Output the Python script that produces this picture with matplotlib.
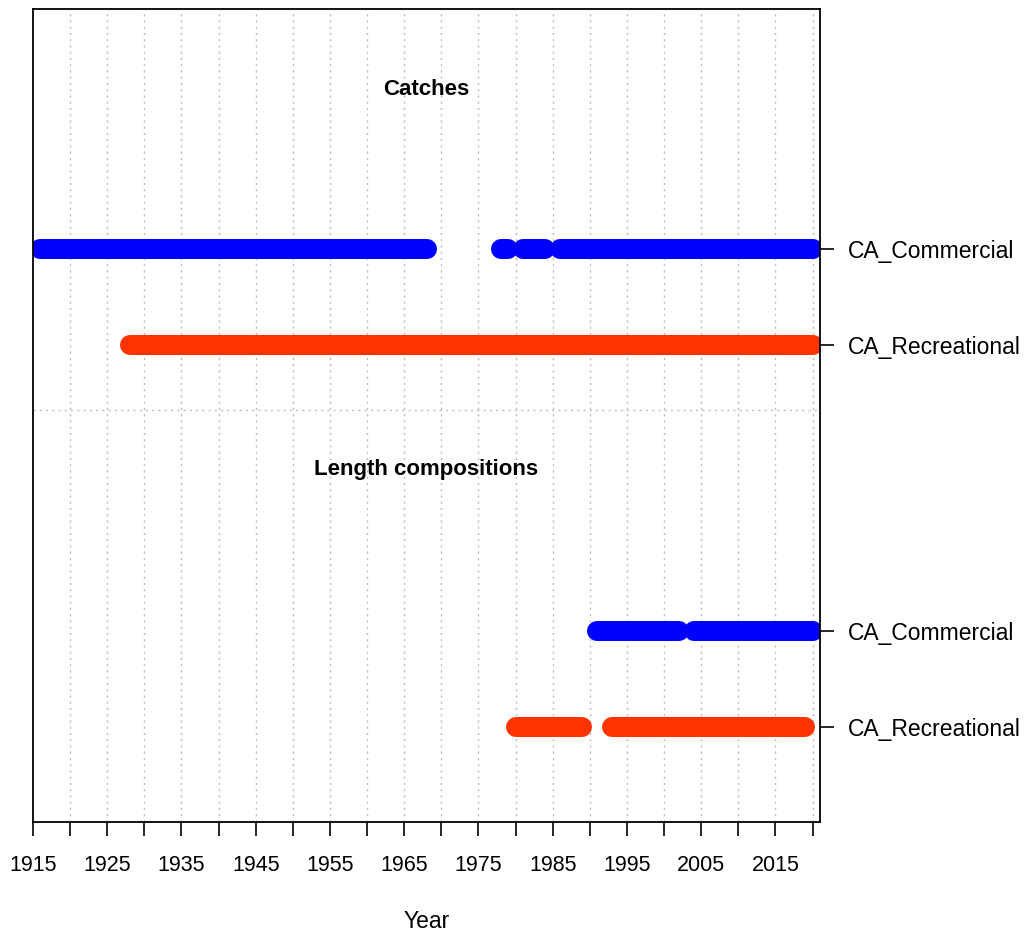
import matplotlib
matplotlib.use("Agg")
import matplotlib.pyplot as plt

plt.rcParams['font.family'] = ['Liberation Sans', 'DejaVu Sans']

# ---- data: runs of consecutive years with data (start, end) ----
catch_comm_runs = [(1916, 1968), (1978, 1979), (1981, 1984), (1986, 2020)]
catch_rec_runs = [(1928, 2020)]
len_comm_runs = [(1991, 2002), (2004, 2020)]
len_rec_runs = [(1980, 1989), (1993, 2019)]

fleet_labels = ["CA_Commercial", "CA_Recreational", "CA_Commercial", "CA_Recreational"]
type_titles = ["Catches", "Length compositions"]
fleet_colors = ["#0000FF", "#FF3300"]

x_ticks = list(range(1915, 2021, 5))
x_tick_labels = [str(y) if (y - 1915) % 10 == 0 else "" for y in x_ticks]

# ---- layout (row positions) ----
row_y = [5.97, 4.97, 1.99, 0.99]
title_y = [7.63, 3.67]
sep_y = 4.29

fig = plt.figure(figsize=(10.28, 9.32), dpi=100)
ax = fig.add_axes([33/1028, 1 - 822/932, (820-33)/1028, (822-9)/932])
ax.set_xlim(1915, 2021)
ax.set_ylim(0, 8.47)

# grid
for xv in x_ticks[1:]:
    ax.axvline(xv, color="#BEBEBE", lw=1.0, linestyle=(0, (1.5, 3)), zorder=0)
ax.axhline(sep_y, color="#BEBEBE", lw=1.0, linestyle=(0, (1.5, 3)), zorder=0)

all_runs = [catch_comm_runs, catch_rec_runs, len_comm_runs, len_rec_runs]
colors = [fleet_colors[0], fleet_colors[1], fleet_colors[0], fleet_colors[1]]
for runs, yv, col in zip(all_runs, row_y, colors):
    for (a, b) in runs:
        ax.plot([a, b], [yv, yv], color=col, lw=14.4, solid_capstyle="round", zorder=2)

for t, yv in zip(type_titles, title_y):
    ax.text(0.5, yv, t, transform=ax.get_yaxis_transform(), ha="center", va="center",
            fontsize=16, fontweight="bold")

ax.set_xticks(x_ticks)
ax.set_xticklabels(x_tick_labels, fontsize=15.5)
ax.tick_params(axis="x", length=10, width=1.2, pad=14)

ax.yaxis.tick_right()
ax.set_yticks(row_y)
ax.set_yticklabels(fleet_labels, fontsize=16.5)
ax.tick_params(axis="y", length=10, width=1.2, pad=10)

ax.set_xlabel("Year", fontsize=16.5, labelpad=24)

for s in ax.spines.values():
    s.set_linewidth(1.3)

fig.savefig("out.png", dpi=100)
